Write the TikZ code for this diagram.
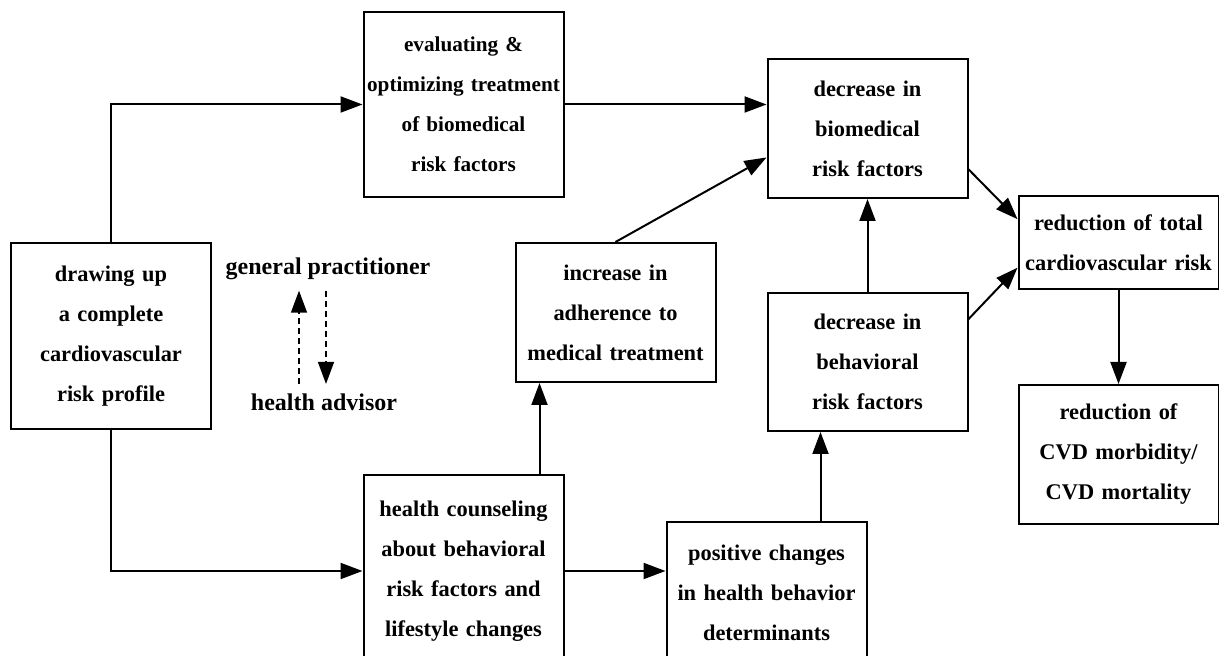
\documentclass[tikz,border=0pt]{standalone}
\usepackage{fontspec}
\setmainfont{Liberation Serif}
\usetikzlibrary{arrows.meta,positioning}

\begin{document}
\begin{tikzpicture}[
  x=1pt, y=1pt,
  font=\fontsize{11.2pt}{20pt}\selectfont\bfseries, node distance=46.5pt,
  box/.style={draw, line width=1pt, align=center, text width=99pt, inner xsep=0.5pt, inner ysep=0pt},
  lbl/.style={anchor=base, inner xsep=1pt, inner ysep=5pt, font=\fontsize{12pt}{14pt}\selectfont\bfseries},
  arr/.style={line width=1pt, -{Triangle[length=11pt,width=8pt]}},
  darr/.style={line width=0.7pt, dash pattern=on 3pt off 2pt, -{Triangle[length=11pt,width=8pt]}}
]
\path[use as bounding box, clip] (0,0) rectangle (609.5,-328);
\node[box, minimum height=93pt] (prof) at (55.5,-168) {drawing up\\a complete\\cardiovascular\\risk profile};
\node[box, minimum height=92.5pt, font=\fontsize{10.6pt}{20pt}\selectfont\bfseries] (eval) at (231.75,-52.25) {evaluating \&\\optimizing treatment\\of biomedical\\risk factors};
\node[box, minimum height=96pt] (couns) at (231.75,-285.5) {health counseling\\about behavioral\\risk factors and\\lifestyle changes};
\node[box, minimum height=69.5pt] (adh) at (307.75,-156.25) {increase in\\adherence to\\medical treatment};
\node[box, minimum height=71pt] (pos) at (383.25,-296.5) {positive changes\\in health behavior\\determinants};
\node[box, minimum height=69.5pt] (bio) at (433.75,-64.25) {decrease in\\biomedical\\risk factors};
\node[box, minimum height=69pt, below=of bio] (beh) {decrease in\\behavioral\\risk factors};
\node[box, minimum height=46.5pt] (total) at (559.25,-121.25) {reduction of total\\cardiovascular risk};
\node[box, minimum height=69.5pt, below=47pt of total] (cvd) {reduction of\\CVD morbidity/\\CVD mortality};
\node[lbl] (gp) at (164,-137.5) {general practitioner};
\node[lbl] (ha) at (162,-205.5) {health advisor};
% profile splits into two tracks
\draw[arr] (prof.north) |- (eval.west);
\draw[arr] (prof.south) |- (couns.west);
\draw[darr] ([xshift=-12.5pt]ha.north) -- ([xshift=-12.5pt]ha.north |- gp.south);
\draw[darr] ([xshift=-1pt]gp.south) -- ([xshift=-1pt]gp.south |- ha.north);
% biomedical track
\draw[arr] (eval.east) -- (eval.east -| bio.west);
\draw[arr] (adh.north) -- (bio.196);
\draw[arr] ([xshift=38pt]couns.north) -- ([xshift=38pt]couns.north |- adh.south);
% behavioral track
\draw[arr] (couns.east) -- (couns.east -| pos.west);
\draw[arr] ([xshift=27pt]pos.north) -- ([xshift=27pt]pos.north |- beh.south);
\draw[arr] (beh.north) -- (bio.south);
% outcomes
\draw[arr] (bio.338) -- (total.167);
\draw[arr] (beh.23) -- (total.194);
\draw[arr] (total.south) -- (cvd.north);
\end{tikzpicture}
\end{document}
